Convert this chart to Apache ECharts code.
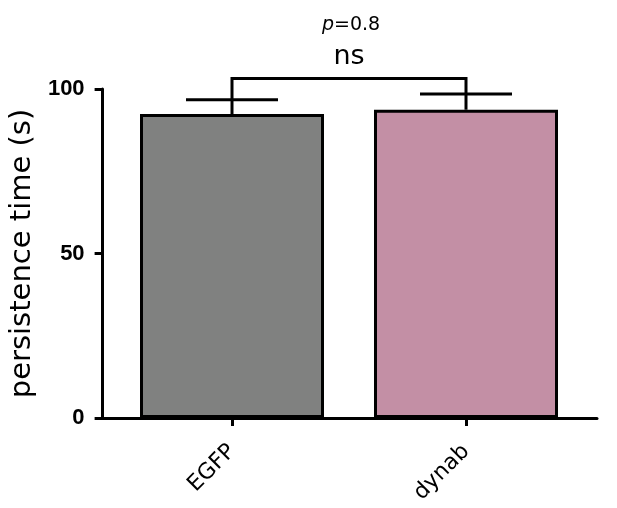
<!DOCTYPE html>
<html><head><meta charset="utf-8">
<script src="https://cdn.jsdelivr.net/npm/echarts@6/dist/echarts.min.js"></script>
<style>html,body{margin:0;padding:0;background:#fff}#c{width:617px;height:508px}</style>
</head><body><div id="c"></div>
<script>
const categories = ['EGFP', 'dynab'];
const means = [92.4, 93.7];
const sems = [4.3, 4.8];
const barColors = ['#808180', '#c38fa5'];
const bracketValue = 103.2;
const pText = '0.8';
const sigText = 'ns';
const yTicks = [0, 50, 100];

const chart = echarts.init(document.getElementById('c'));
const font = 'DejaVu Sans';
chart.setOption({
  animation: false,
  grid: [
    {left: 100, width: 497, top: 89, bottom: 90},
    {left: 115, width: 468, top: 89, bottom: 90}
  ],
  xAxis: [
    {gridIndex: 0, type: 'value', min: 0, max: 1, axisLine: {show: true, lineStyle: {color: '#000', width: 3}},
     axisTick: {show: false}, axisLabel: {show: false}, splitLine: {show: false}},
    {gridIndex: 1, type: 'category', data: categories, axisLine: {show: false},
     axisTick: {show: true, alignWithLabel: true, length: 8, lineStyle: {color: '#000', width: 3}},
     axisLabel: {rotate: 45, margin: 30, fontFamily: font, fontSize: 22, color: '#000'}}
  ],
  yAxis: [
    {gridIndex: 0, type: 'value', min: yTicks[0], max: yTicks[yTicks.length - 1], interval: 50,
     axisLine: {show: true, lineStyle: {color: '#000', width: 3}},
     axisTick: {show: true, length: 8, lineStyle: {color: '#000', width: 3}},
     axisLabel: {fontFamily: 'Liberation Sans, Arial, sans-serif', fontWeight: 'bold', fontSize: 22, color: '#000', margin: 18},
     splitLine: {show: false},
     name: 'persistence time (s)', nameLocation: 'middle', nameGap: 47,
     nameTextStyle: {fontFamily: font, fontSize: 29, color: '#000'}},
    {gridIndex: 1, type: 'value', min: 0, max: 100, show: false}
  ],
  series: [
    {type: 'bar', xAxisIndex: 1, yAxisIndex: 1, barWidth: 184,
     data: means.map((v, i) => ({value: v, itemStyle: {color: barColors[i], borderColor: '#000', borderWidth: 3}}))},
    {type: 'custom', xAxisIndex: 1, yAxisIndex: 1, clip: false, z: 5,
     data: means.map((v, i) => [i, v, sems[i]]),
     renderItem: function (params, api) {
       const x = api.value(0), m = api.value(1), s = api.value(2);
       const p0 = api.coord([x, m]);
       const p1 = api.coord([x, m + s]);
       const hw = 46;
       const st = {stroke: '#000', lineWidth: 3};
       return {type: 'group', children: [
         {type: 'line', shape: {x1: p0[0], y1: p0[1], x2: p1[0], y2: p1[1]}, style: st},
         {type: 'line', shape: {x1: p1[0] - hw, y1: p1[1], x2: p1[0] + hw, y2: p1[1]}, style: st}
       ]};
     }},
    {type: 'custom', xAxisIndex: 1, yAxisIndex: 1, clip: false, z: 5,
     data: [[0, 1, bracketValue]],
     renderItem: function (params, api) {
       const a = api.value(0), b = api.value(1), yb = api.value(2);
       const pa = api.coord([a, means[a] + sems[a]]);
       const pb = api.coord([b, means[b] + sems[b]]);
       const ta = api.coord([a, yb]);
       const tb = api.coord([b, yb]);
       const st = {stroke: '#000', lineWidth: 3, fill: null};
       const cx = (ta[0] + tb[0]) / 2;
       return {type: 'group', children: [
         {type: 'polyline', shape: {points: [pa, ta, tb, pb]}, style: st},
         {type: 'text', x: cx, y: ta[1] - 8, style: {text: sigText, fontFamily: font, fontSize: 27,
           fill: '#000', align: 'center', verticalAlign: 'bottom'}},
         {type: 'text', x: cx + 2, y: ta[1] - 44, style: {
           text: '{i|p}{n|=' + pText + '}', align: 'center', verticalAlign: 'bottom',
           rich: {i: {fontFamily: font, fontStyle: 'italic', fontSize: 19, fill: '#000'},
                  n: {fontFamily: font, fontSize: 19, fill: '#000'}}}}
       ]};
     }}
  ]
});
</script></body></html>
